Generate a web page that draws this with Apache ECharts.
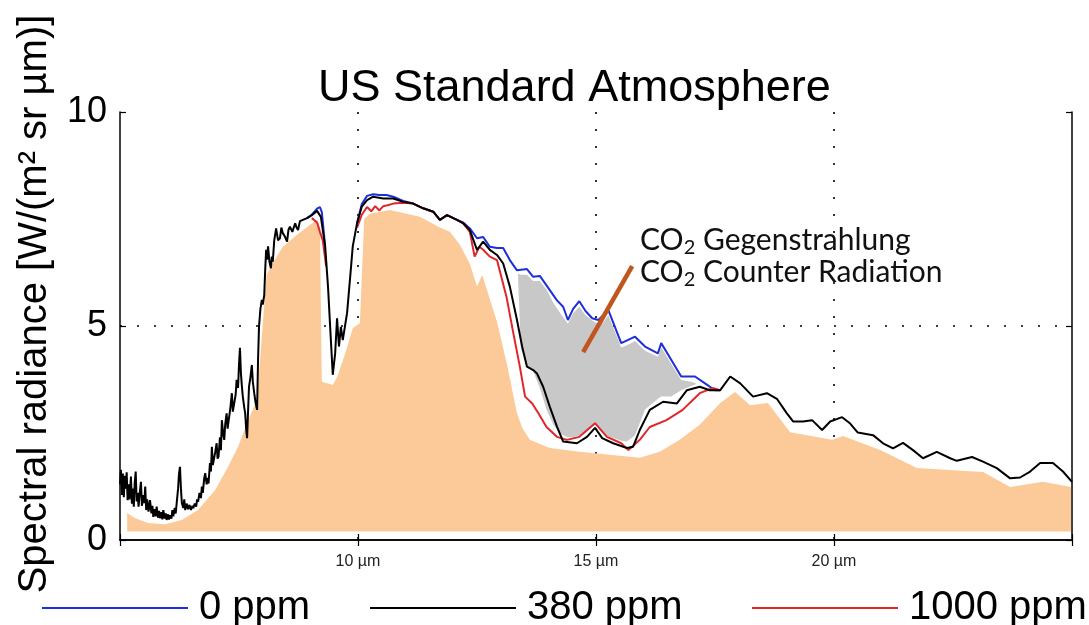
<!DOCTYPE html>
<html><head><meta charset="utf-8">
<script src="https://cdn.jsdelivr.net/npm/echarts@6/dist/echarts.min.js"></script>
<style>html,body{margin:0;padding:0;background:#fff}#c{width:1089px;height:625px}</style>
</head><body><div id="c"></div>
<script>
// ---------- text ----------
const titleText = 'US Standard Atmosphere';
const yAxisTitle = 'Spectral radiance [W/(m² sr µm)]';
const xTickValues = [10, 15, 20];
const xTickUnit = ' µm';
const seriesNames = ['0 ppm', '380 ppm', '1000 ppm'];
const annotation1 = ['CO', '2', ' Gegenstrahlung'];
const annotation2 = ['CO', '2', ' Counter Radiation'];

// ---------- 380 ppm (black) ----------
const ppm380X = [5.00,5.02,5.04,5.06,5.08,5.10,5.12,5.14,5.16,5.18,5.20,5.23,5.25,5.27,5.29,5.31,5.33,5.35,5.37,5.39,5.41,5.44,5.46,5.49,5.51,5.53,5.55,5.57,5.60,5.63,5.66,5.68,5.70,5.73,5.75,5.77,5.80,5.82,5.84,5.87,5.89,5.91,5.94,5.96,5.98,6.01,6.03,6.05,6.08,6.10,6.12,6.15,6.17,6.19,6.22,6.24,6.26,6.28,6.30,6.33,6.35,6.37,6.40,6.43,6.46,6.49,6.52,6.54,6.57,6.60,6.62,6.64,6.67,6.70,6.72,6.74,6.77,6.79,6.82,6.84,6.86,6.89,6.91,6.93,6.95,6.98,7.00,7.03,7.05,7.07,7.10,7.12,7.14,7.17,7.19,7.21,7.24,7.26,7.29,7.32,7.35,7.37,7.40,7.43,7.45,7.48,7.50,7.52,7.54,7.56,7.58,7.61,7.63,7.65,7.67,7.69,7.71,7.74,7.77,7.79,7.82,7.85,7.88,7.90,7.92,7.95,7.98,8.00,8.03,8.05,8.07,8.09,8.11,8.14,8.17,8.19,8.21,8.24,8.28,8.32,8.36,8.39,8.42,8.46,8.51,8.54,8.57,8.62,8.68,8.71,8.74,8.78,8.82,8.93,9.03,9.14,9.22,9.31,9.37,9.43,9.47,9.52,9.56,9.60,9.64,9.68,9.77,9.83,9.89,9.98,10.08,10.19,10.32,10.53,10.74,10.95,11.16,11.37,11.58,11.72,11.87,12.08,12.21,12.35,12.50,12.63,12.77,12.92,13.05,13.19,13.34,13.45,13.55,13.68,13.76,13.89,14.03,14.18,14.31,14.60,14.81,14.98,15.13,15.36,15.65,15.78,15.92,16.13,16.41,16.70,16.91,17.18,17.39,17.61,17.82,18.03,18.30,18.59,18.80,19.01,19.14,19.35,19.54,19.75,19.92,20.17,20.34,20.50,20.82,21.03,21.24,21.45,21.66,21.87,22.16,22.44,22.58,22.90,23.13,23.42,23.70,23.91,24.12,24.33,24.60,24.81,25.00];
const ppm380Y = [1.30,1.64,1.05,1.55,1.00,1.50,1.20,1.58,0.93,1.30,0.95,1.48,0.85,1.20,0.78,1.35,1.60,0.90,1.10,0.78,1.05,1.36,0.80,1.05,0.86,1.25,0.70,0.95,0.66,0.93,0.62,0.80,0.54,0.72,0.55,0.78,0.52,0.68,0.51,0.65,0.48,0.70,0.50,0.62,0.47,0.60,0.48,0.58,0.50,0.70,0.55,0.75,0.62,0.85,1.20,1.55,1.71,1.20,0.86,0.75,0.95,0.70,0.85,0.72,0.82,0.70,0.80,0.74,0.85,0.78,0.95,0.89,1.10,0.98,1.25,1.10,1.45,1.56,1.30,1.45,1.32,1.80,1.60,2.18,1.75,1.71,2.05,2.26,1.90,1.95,2.40,2.10,2.80,2.45,2.34,2.70,2.96,2.60,2.57,3.10,3.43,3.00,2.96,3.40,3.74,3.55,4.10,4.49,3.90,3.60,3.35,3.10,2.96,2.60,2.38,3.00,3.58,3.80,4.09,3.70,3.43,3.20,3.04,4.20,4.98,5.40,5.61,5.50,5.72,6.30,6.78,6.55,6.86,6.50,6.35,6.62,6.50,7.00,7.28,7.00,7.05,7.30,7.17,7.10,6.97,7.25,7.32,7.20,7.40,7.30,7.24,7.45,7.48,7.52,7.59,7.69,7.55,6.86,5.92,4.67,3.86,4.36,5.18,4.52,4.98,4.67,5.30,6.07,6.86,7.40,7.79,7.94,8.02,7.98,7.98,7.90,7.86,7.75,7.67,7.48,7.59,7.48,7.40,7.24,6.78,6.97,6.78,6.66,6.46,5.92,5.14,4.51,4.05,3.97,3.89,3.58,3.11,2.65,2.30,2.26,2.41,2.62,2.38,2.26,2.15,2.18,2.57,3.04,3.23,3.19,3.50,3.58,3.50,3.50,3.82,3.66,3.35,3.43,3.30,2.96,2.77,2.77,2.80,2.57,2.77,2.87,2.72,2.51,2.45,2.26,2.14,2.27,2.10,1.91,2.06,1.91,1.85,1.94,1.83,1.68,1.44,1.46,1.60,1.80,1.80,1.60,1.36];

// ---------- 0 ppm (blue), null = hidden under black ----------
const ppm0X = [8.93,9.03,9.14,9.20,9.24,9.31,9.32,9.98,10.08,10.19,10.32,10.45,10.60,10.74,10.95,11.16,11.37,11.58,11.72,11.87,12.08,12.21,12.35,12.50,12.63,12.77,12.92,13.05,13.19,13.34,13.55,13.68,13.82,13.96,14.18,14.31,14.41,14.52,14.65,14.78,14.92,15.05,15.26,15.53,15.82,16.03,16.30,16.37,16.58,16.79,17.08,17.29,17.50,17.61];
const ppm0Y = [7.52,7.60,7.74,7.78,7.66,6.86,null,7.40,7.85,8.04,8.08,8.06,8.06,8.02,7.92,7.86,7.75,7.67,7.48,7.59,7.48,7.42,7.28,7.05,7.08,6.85,6.82,6.82,6.54,6.30,6.33,6.15,6.17,5.95,5.60,5.45,5.14,5.40,5.58,5.35,5.18,5.14,5.37,4.60,4.75,4.52,4.36,4.60,4.21,3.82,3.82,3.66,3.50,3.50];

// ---------- 1000 ppm (red) ----------
const ppm1000X = [9.03,9.14,9.20,9.26,9.33,9.34,9.98,10.08,10.19,10.28,10.36,10.45,10.53,10.62,10.74,10.95,11.16,11.37,11.58,11.72,11.87,12.08,12.21,12.35,12.45,12.55,12.63,12.77,12.92,13.12,13.25,13.40,13.51,13.66,13.79,13.96,14.18,14.39,14.65,14.98,15.23,15.53,15.68,15.92,16.13,16.48,16.82,17.18,17.45,17.61];
const ppm1000Y = [7.52,7.42,7.20,7.00,6.40,null,7.30,7.60,7.78,7.68,7.80,7.70,7.80,7.82,7.86,7.88,7.86,7.75,7.67,7.48,7.59,7.48,7.40,7.20,6.62,6.85,6.78,6.62,6.54,5.68,4.91,4.05,3.35,3.19,2.96,2.64,2.41,2.34,2.41,2.73,2.41,2.26,2.10,2.34,2.64,2.80,3.04,3.43,3.55,3.50];

// ---------- peach background envelope ----------
const envelopeX = [5.15,5.32,5.59,5.95,6.30,6.64,7.00,7.27,7.48,7.69,7.88,7.99,8.08,8.21,8.42,8.72,8.99,9.14,9.20,9.24,9.47,9.56,9.73,9.89,10.04,10.13,10.25,10.67,11.30,11.72,11.93,12.14,12.35,12.50,12.61,12.71,12.92,13.13,13.34,13.45,13.61,14.03,14.66,15.29,15.92,16.34,16.76,17.18,17.61,17.92,18.24,18.61,19.08,19.96,20.19,20.97,21.74,23.13,23.70,24.39,24.98];
const envelopeY = [0.63,0.51,0.40,0.37,0.47,0.70,1.17,1.71,2.18,2.80,3.27,4.90,6.20,6.47,6.85,7.13,7.36,7.48,7.30,3.70,3.62,3.80,4.35,4.95,5.07,7.50,7.62,7.71,7.55,7.30,7.20,6.90,6.45,5.92,6.19,5.84,5.10,4.10,2.96,2.62,2.34,2.15,2.06,1.99,1.92,2.06,2.34,2.69,3.20,3.46,3.15,3.20,2.52,2.34,2.43,2.10,1.68,1.59,1.24,1.36,1.24];
const envelopeBase = 0.2;

// ---------- grey CO2 counter-radiation band ----------
const bandX = [13.36,13.42,13.55,13.68,13.82,13.96,14.10,14.25,14.41,14.52,14.65,14.78,14.98,15.13,15.26,15.53,15.65,15.82,16.03,16.30,16.37,16.58,16.79,17.00,17.10];
const bandLow = [6.20,4.50,4.05,3.95,3.55,3.05,2.70,2.48,2.40,2.40,2.45,2.55,2.75,2.52,2.42,2.32,2.30,2.45,3.05,3.30,3.35,3.35,3.50,3.60,3.64];
const bandHigh = [6.22,6.20,6.20,6.05,6.05,5.85,5.55,5.30,5.05,5.30,5.45,5.25,5.08,5.05,5.25,4.50,4.55,4.65,4.42,4.28,4.50,4.12,3.74,3.70,3.66];

// ---------- annotation pointer ----------
const pointerX = [14.73, 15.76];
const pointerY = [4.39, 6.40];

const pairs = (xs, ys) => xs.map((x, i) => [x, ys[i]]);

const FONT = '"Liberation Sans", Arial, Helvetica, sans-serif';
const C_BLUE = '#1c2fd8', C_BLACK = '#000000', C_RED = '#e0262a';
const C_PEACH = '#fbca98', C_GREY = '#c8c8c8', C_POINTER = '#c0561d';

const chart = echarts.init(document.getElementById('c'), null, {renderer: 'canvas'});

const dotted = {show: true, lineStyle: {color: '#000', width: 1.6, type: [2, 15]}};
const frame = {show: true, lineStyle: {color: '#000', width: 1.5}};
const tick = {show: true, inside: true, length: 6, lineStyle: {color: '#000', width: 1.2}};

function richAnno(parts) {
  return '{a|' + parts[0] + '}{s|' + parts[1] + '}{a|' + parts[2] + '}';
}
const annoRich = {
  a: {fontSize: 30, fontFamily: 'Lato, "Open Sans", sans-serif', fill: '#111', lineHeight: 36, verticalAlign: 'middle'},
  s: {fontSize: 20, fontFamily: 'Lato, "Open Sans", sans-serif', fill: '#111', lineHeight: 22, verticalAlign: 'bottom'}
};

const option = {
  animation: false,
  backgroundColor: '#ffffff',
  title: {
    text: titleText, left: 318, top: 66, padding: 0,
    textStyle: {fontFamily: FONT, fontSize: 45, fontWeight: 'normal', color: '#000'}
  },
  grid: {left: 120, right: 17, top: 112, bottom: 85},
  xAxis: [{
    type: 'value', min: 5, max: 25, interval: 5, position: 'bottom',
    axisLine: frame, axisTick: tick,
    splitLine: Object.assign({showMinLine: false, showMaxLine: false}, dotted),
    axisLabel: {
      fontFamily: FONT, fontSize: 16, color: '#222', margin: 14,
      formatter: v => xTickValues.indexOf(v) >= 0 ? v + xTickUnit : ''
    }
  }, {
    type: 'value', min: 5, max: 25, interval: 5, position: 'top',
    axisLine: frame, axisTick: tick, splitLine: {show: false}, axisLabel: {show: false}
  }],
  yAxis: [{
    type: 'value', min: 0, max: 10, interval: 5, position: 'left',
    axisLine: frame, axisTick: tick,
    splitLine: Object.assign({showMinLine: false, showMaxLine: false}, dotted),
    axisLabel: {fontFamily: FONT, fontSize: 36, color: '#000', margin: 13}
  }, {
    type: 'value', min: 0, max: 10, interval: 5, position: 'right',
    axisLine: frame, axisTick: tick, splitLine: {show: false}, axisLabel: {show: false}
  }],
  legend: [0, 1, 2].map((k, i) => ({
    data: [seriesNames[k]],
    left: [42, 370, 752][i], top: 588, padding: 0,
    icon: 'rect', itemWidth: 146, itemHeight: 2,
    textStyle: {fontFamily: FONT, fontSize: 40, color: '#000', padding: [0, 0, 0, 6]},
    selectedMode: false
  })),
  series: [
    {
      type: 'line', name: 'envelope', data: pairs(envelopeX, envelopeY),
      showSymbol: false, silent: true, z: 1,
      lineStyle: {width: 0, opacity: 0},
      areaStyle: {color: C_PEACH, opacity: 1, origin: envelopeBase}
    },
    {
      type: 'custom', name: 'band', data: [[15, 4]], silent: true, z: 2,
      renderItem: function (params, api) {
        const pts = [];
        for (let i = 0; i < bandX.length; i++) pts.push(api.coord([bandX[i], bandHigh[i]]));
        for (let i = bandX.length - 1; i >= 0; i--) pts.push(api.coord([bandX[i], bandLow[i]]));
        return {type: 'polygon', shape: {points: pts}, style: {fill: C_GREY}};
      }
    },
    {
      type: 'line', name: seriesNames[0], data: pairs(ppm0X, ppm0Y), color: C_BLUE,
      showSymbol: false, z: 3, connectNulls: false,
      lineStyle: {color: C_BLUE, width: 2}
    },
    {
      type: 'line', name: seriesNames[2], data: pairs(ppm1000X, ppm1000Y), color: C_RED,
      showSymbol: false, z: 4, connectNulls: false,
      lineStyle: {color: C_RED, width: 2}
    },
    {
      type: 'line', name: seriesNames[1], data: pairs(ppm380X, ppm380Y), color: C_BLACK,
      showSymbol: false, z: 5,
      lineStyle: {color: C_BLACK, width: 2}
    },
    {
      type: 'line', name: 'pointer', data: pairs(pointerX, pointerY),
      showSymbol: false, silent: true, z: 6,
      lineStyle: {color: C_POINTER, width: 4.5}
    }
  ],
  graphic: [
    {
      type: 'text', x: 35, y: 304, rotation: Math.PI / 2, silent: true,
      style: {text: yAxisTitle, fontFamily: FONT, fontSize: 40, fill: '#000', align: 'center', verticalAlign: 'middle'}
    },
    {
      type: 'text', x: 640, y: 240, silent: true,
      style: {text: richAnno(annotation1), rich: annoRich, align: 'left', verticalAlign: 'middle'}
    },
    {
      type: 'text', x: 640, y: 272, silent: true,
      style: {text: richAnno(annotation2), rich: annoRich, align: 'left', verticalAlign: 'middle'}
    }
  ]
};
chart.setOption(option);
</script>
</body></html>
